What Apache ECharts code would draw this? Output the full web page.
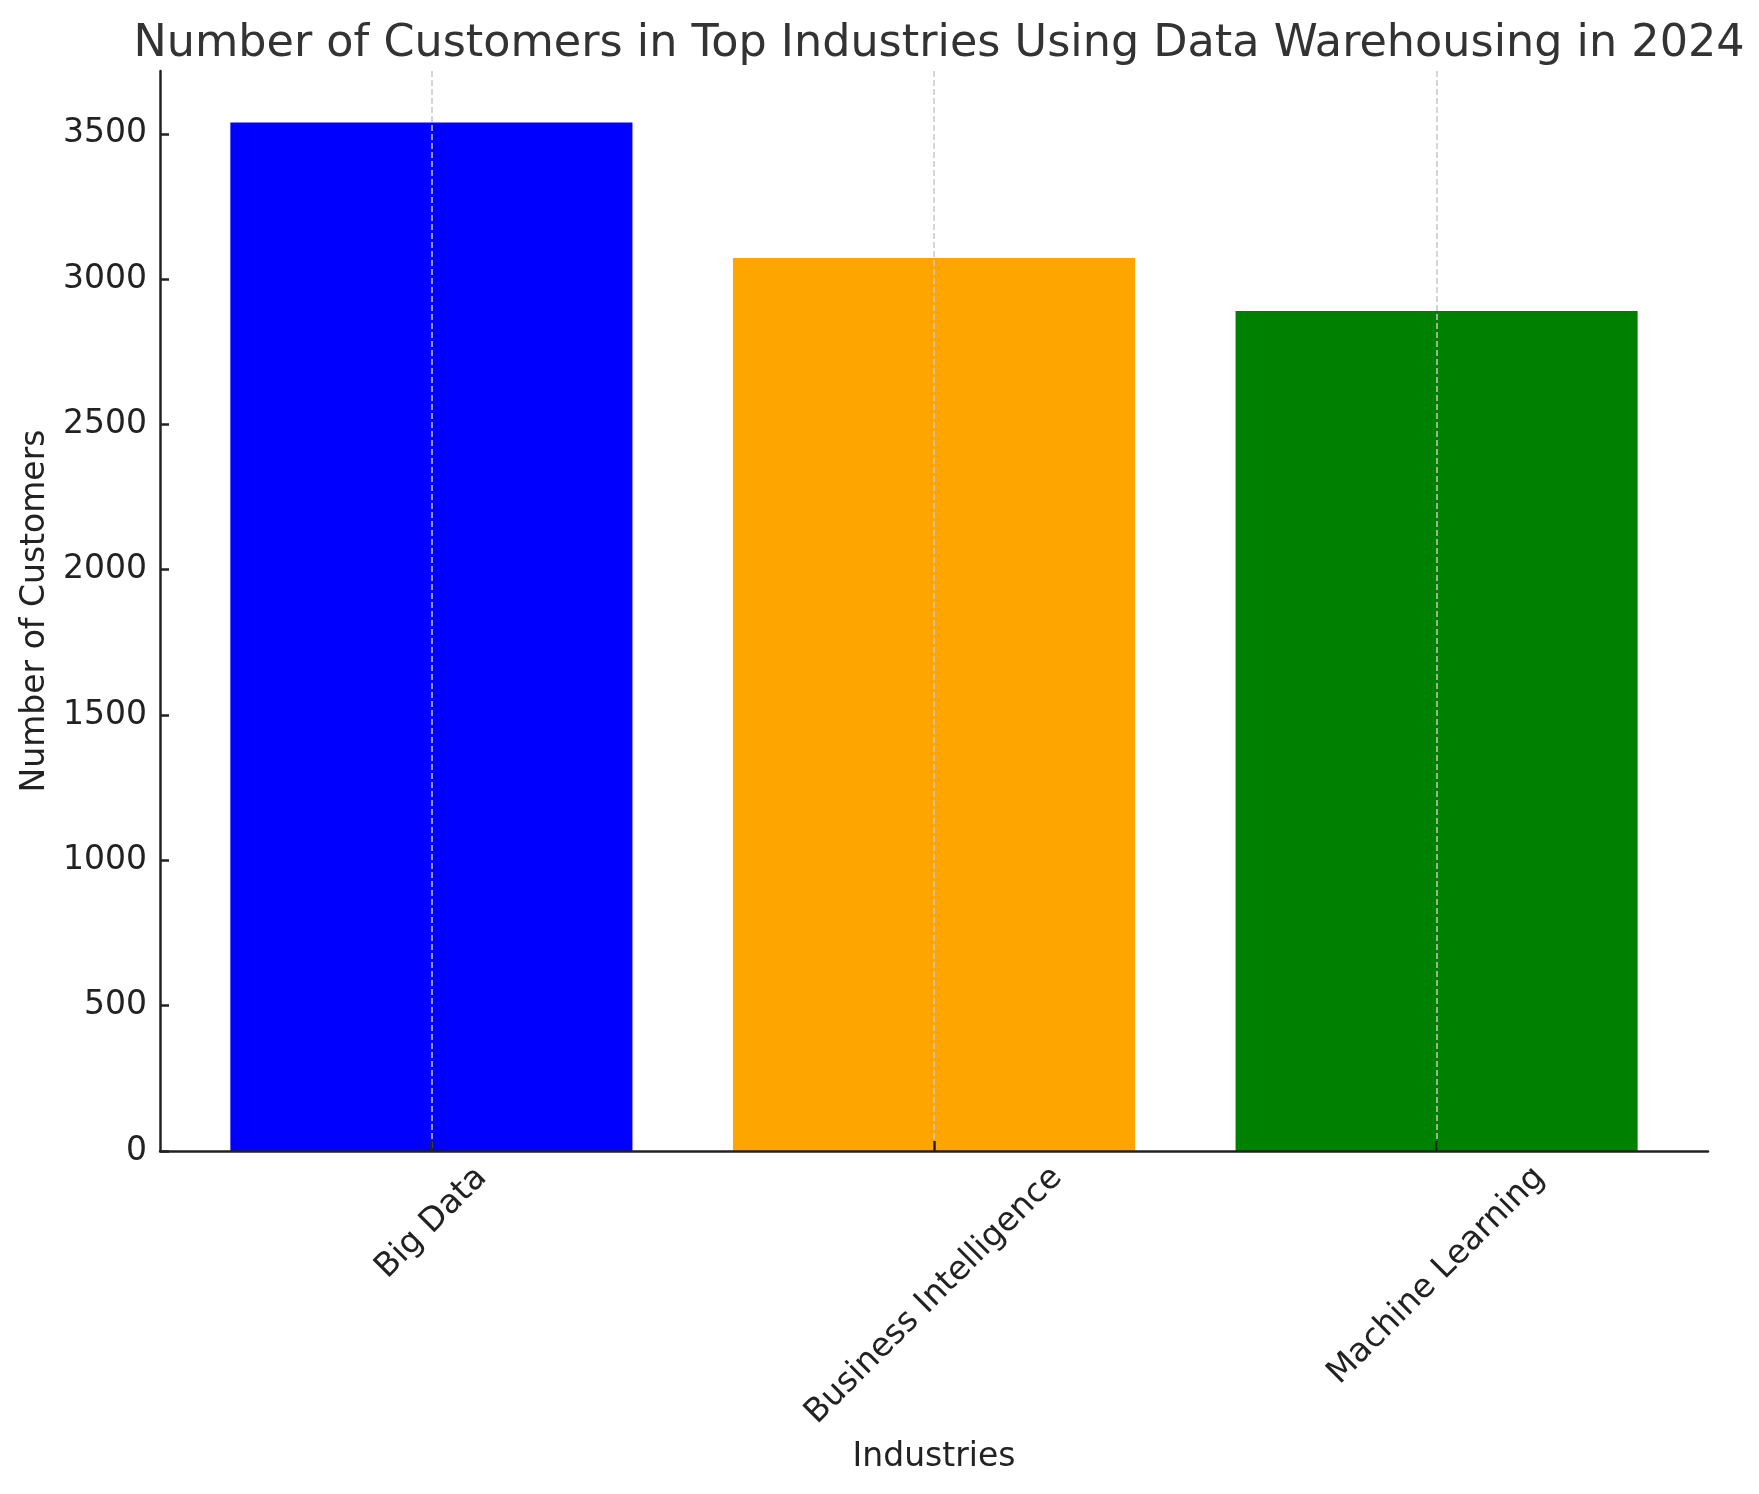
<!DOCTYPE html>
<html>
<head>
<meta charset="UTF-8">
<title>Customers in Top Industries</title>
<script src="https://cdn.jsdelivr.net/npm/echarts@6/dist/echarts.min.js"></script>
<style>
  html, body { margin: 0; padding: 0; background: #fff; }
  #main { width: 1759px; height: 1494px; }
</style>
</head>
<body>
<div id="main"></div>
<script type="text/javascript">
    // data
    var industries = ['Big Data', 'Business Intelligence', 'Machine Learning'];
    var customers = [3539, 3073, 2890];
    var barColors = ['#0000ff', '#ffa500', '#008000'];
    var yTicks = [0, 500, 1000, 1500, 2000, 2500, 3000, 3500];

    var font = 'DejaVu Sans';
    var labelSize = 33;
    var gridLeft = 160, gridRight = 51, gridTop = 71, gridBottom = 343;
    var xMin = -0.54, xMax = 2.54;
    var plotW = 1759 - gridLeft - gridRight;
    var barW = 0.8 * plotW / (xMax - xMin);

    // matplotlib style rotated labels: bbox centered under the tick
    var ctx = document.createElement('canvas').getContext('2d');
    ctx.font = labelSize + 'px "' + font + '"';
    var lineH = labelSize * 1.17;
    var labelGap = 8;
    var rich = {};
    for (var i = 0; i < industries.length; i++) {
        var w = ctx.measureText(industries[i]).width;
        var d = labelGap + (w + lineH) / (2 * Math.SQRT2);
        var p = Math.SQRT2 * d;
        rich['c' + i] = {
            fontFamily: font,
            fontSize: labelSize,
            color: '#222',
            lineHeight: lineH,
            padding: [p, p, 0, 0]
        };
    }

    var barData = [];
    for (var i = 0; i < industries.length; i++) {
        barData.push({ value: [i, customers[i]], itemStyle: { color: barColors[i] } });
    }

    var option = {
        animation: false,
        backgroundColor: '#fff',
        textStyle: { fontFamily: font },
        title: {
            text: 'Number of Customers in Top Industries Using Data Warehousing in 2024',
            left: gridLeft + plotW / 2,
            textAlign: 'center',
            top: 17,
            textStyle: { fontFamily: font, fontSize: 44.5, fontWeight: 'normal', color: '#333' }
        },
        grid: { left: gridLeft, right: gridRight, top: gridTop, bottom: gridBottom, containLabel: false },
        xAxis: {
            type: 'value',
            min: xMin,
            max: xMax,
            name: 'Industries',
            nameLocation: 'middle',
            nameGap: 290,
            nameTextStyle: { fontFamily: font, fontSize: labelSize, color: '#222' },
            axisLine: { show: true, onZero: false, lineStyle: { color: '#222', width: 2.5 } },
            axisTick: { show: true, inside: true, length: 10, customValues: [0, 1, 2], lineStyle: { color: '#222', width: 2.5 } },
            axisLabel: {
                customValues: [0, 1, 2],
                rotate: 45,
                margin: 0,
                align: 'center',
                verticalAlign: 'middle',
                formatter: function (v) {
                    var k = Math.round(v);
                    return '{c' + k + '|' + industries[k] + '}';
                },
                rich: rich
            },
            splitLine: { show: true, lineStyle: { color: '#c8c8c8', width: 1.5, type: [6, 3] } }
        },
        yAxis: {
            type: 'value',
            min: 0,
            max: 3716,
            name: 'Number of Customers',
            nameLocation: 'middle',
            nameGap: 99,
            nameTextStyle: { fontFamily: font, fontSize: labelSize, color: '#222' },
            axisLine: { show: true, onZero: false, lineStyle: { color: '#222', width: 2.5 } },
            axisTick: { show: true, inside: true, length: 9, customValues: yTicks, lineStyle: { color: '#222', width: 2.5 } },
            axisLabel: {
                customValues: yTicks,
                margin: 13,
                fontFamily: font,
                fontSize: labelSize,
                color: '#222',
                formatter: function (v) { return String(v); }
            },
            splitLine: { show: false }
        },
        series: [{
            type: 'bar',
            z: -1,
            barWidth: barW,
            data: barData
        }]
    };

    var myChart = echarts.init(document.getElementById('main'));
    myChart.setOption(option);
</script>
</body>
</html>
